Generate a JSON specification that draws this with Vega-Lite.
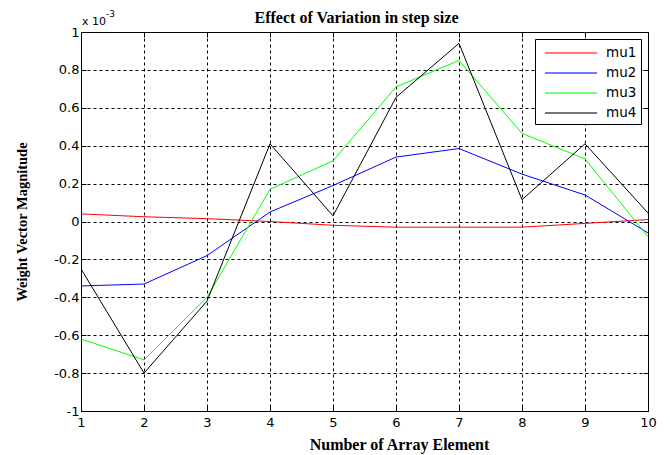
{
  "$schema": "https://vega.github.io/schema/vega-lite/v6.json",
  "width": 567,
  "height": 379,
  "autosize": {"type": "none"},
  "padding": {"left": 81, "top": 32, "right": 22, "bottom": 44},
  "background": "white",
  "title": {"text": "Effect of Variation in step size", "font": "Liberation Serif", "fontSize": 16, "fontWeight": "bold", "color": "black", "offset": 6, "dx": -8, "dy": 22},
  "config": {
    "view": {"stroke": "black", "strokeWidth": 1},
    "axis": {
      "domainColor": "black", "tickColor": "black", "gridColor": "black", "gridDash": [3, 3], "gridOpacity": 1, "gridWidth": 1,
      "labelFont": "DejaVu Sans", "labelFontSize": 13, "labelColor": "black", "labelOverlap": false,
      "titleFont": "Liberation Serif", "titleFontSize": 16, "titleFontWeight": "bold", "titleColor": "black",
      "tickSize": -5
    }
  },
  "data": {"values": [
    {"x": 1, "series": "mu1", "value": 0.04}, {"x": 2, "series": "mu1", "value": 0.025}, {"x": 3, "series": "mu1", "value": 0.015}, {"x": 4, "series": "mu1", "value": 0.0}, {"x": 5, "series": "mu1", "value": -0.02},
    {"x": 6, "series": "mu1", "value": -0.03}, {"x": 7, "series": "mu1", "value": -0.03}, {"x": 8, "series": "mu1", "value": -0.03}, {"x": 9, "series": "mu1", "value": -0.01}, {"x": 10, "series": "mu1", "value": 0.01},
    {"x": 1, "series": "mu2", "value": -0.34}, {"x": 2, "series": "mu2", "value": -0.33}, {"x": 3, "series": "mu2", "value": -0.18}, {"x": 4, "series": "mu2", "value": 0.05}, {"x": 5, "series": "mu2", "value": 0.19},
    {"x": 6, "series": "mu2", "value": 0.34}, {"x": 7, "series": "mu2", "value": 0.385}, {"x": 8, "series": "mu2", "value": 0.25}, {"x": 9, "series": "mu2", "value": 0.14}, {"x": 10, "series": "mu2", "value": -0.06},
    {"x": 1, "series": "mu3", "value": -0.62}, {"x": 2, "series": "mu3", "value": -0.73}, {"x": 3, "series": "mu3", "value": -0.4}, {"x": 4, "series": "mu3", "value": 0.17}, {"x": 5, "series": "mu3", "value": 0.32},
    {"x": 6, "series": "mu3", "value": 0.71}, {"x": 7, "series": "mu3", "value": 0.85}, {"x": 8, "series": "mu3", "value": 0.465}, {"x": 9, "series": "mu3", "value": 0.33}, {"x": 10, "series": "mu3", "value": -0.08},
    {"x": 1, "series": "mu4", "value": -0.25}, {"x": 2, "series": "mu4", "value": -0.8}, {"x": 3, "series": "mu4", "value": -0.42}, {"x": 4, "series": "mu4", "value": 0.41}, {"x": 5, "series": "mu4", "value": 0.03},
    {"x": 6, "series": "mu4", "value": 0.655}, {"x": 7, "series": "mu4", "value": 0.94}, {"x": 8, "series": "mu4", "value": 0.115}, {"x": 9, "series": "mu4", "value": 0.41}, {"x": 10, "series": "mu4", "value": 0.045}
  ]},
  "resolve": {"axis": {"x": "independent", "y": "independent"}},
  "layer": [
    {
      "mark": {"type": "line", "strokeWidth": 1, "clip": true},
      "encoding": {
        "x": {"field": "x", "type": "quantitative", "scale": {"domain": [1, 10], "nice": false},
          "axis": {"title": "Number of Array Element", "values": [1, 2, 3, 4, 5, 6, 7, 8, 9, 10], "labelExpr": "datum.value + ''", "labelPadding": 10, "titleX": 318, "titlePadding": 7, "labelFlush": false}},
        "y": {"field": "value", "type": "quantitative", "scale": {"domain": [-1, 1], "nice": false},
          "axis": {"title": "Weight Vector Magnitude", "titleFontSize": 14.5, "values": [-1, -0.8, -0.6, -0.4, -0.2, 0, 0.2, 0.4, 0.6, 0.8, 1], "labelExpr": "datum.value + ''", "labelPadding": 7, "titlePadding": 24}},
        "color": {"field": "series", "type": "nominal",
          "scale": {"domain": ["mu1", "mu2", "mu3", "mu4"], "range": ["#ff0000", "#0000ff", "#00ff00", "#000000"]},
          "legend": {"title": null, "orient": "top-right", "offset": 7, "strokeColor": "black", "fillColor": "white", "padding": 4,
            "symbolType": "M-2.9,0H2.9", "symbolSize": 324, "symbolStrokeWidth": 1.5, "symbolOffset": 22, "symbolOpacity": 0.7,
            "labelFont": "DejaVu Sans", "labelFontSize": 13.5, "labelColor": "black", "rowPadding": 3, "labelOffset": 25}},
        "order": {"field": "x"}
      }
    },
    {
      "data": {"values": [{"t": "x 10"}]},
      "mark": {"type": "text", "align": "left", "baseline": "alphabetic", "dx": 1, "dy": -7, "font": "DejaVu Sans", "fontSize": 11, "color": "black"},
      "encoding": {
        "x": {"datum": 1, "type": "quantitative", "axis": {"orient": "top", "labels": false, "grid": false, "domain": false, "title": null, "values": [1, 2, 3, 4, 5, 6, 7, 8, 9, 10]}},
        "y": {"datum": 1, "type": "quantitative", "axis": {"orient": "right", "labels": false, "grid": false, "domain": false, "title": null, "values": [-1, -0.8, -0.6, -0.4, -0.2, 0, 0.2, 0.4, 0.6, 0.8, 1]}},
        "text": {"field": "t"}
      }
    },
    {
      "data": {"values": [{"t": "-3"}]},
      "mark": {"type": "text", "align": "left", "baseline": "alphabetic", "dx": 25, "dy": -15, "font": "DejaVu Sans", "fontSize": 9, "color": "black"},
      "encoding": {"x": {"datum": 1, "type": "quantitative", "axis": null}, "y": {"datum": 1, "type": "quantitative", "axis": null}, "text": {"field": "t"}}
    }
  ]
}
